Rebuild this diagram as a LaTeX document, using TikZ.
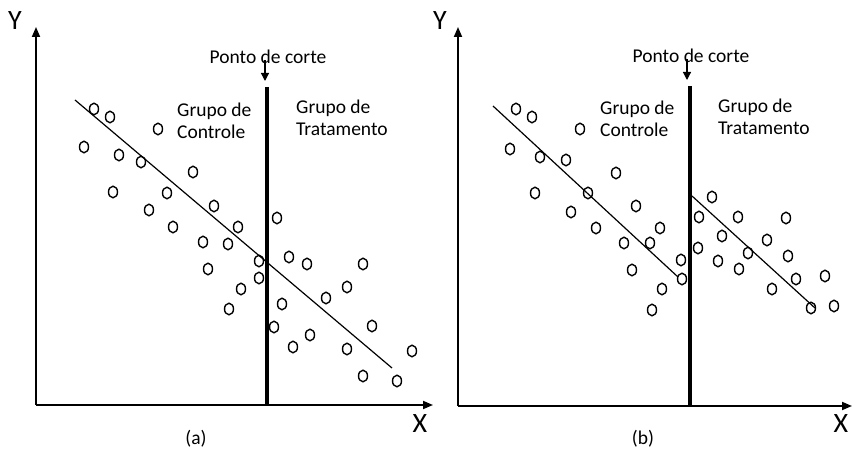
\documentclass[tikz,border=0pt]{standalone}
\usepackage{fontspec}
\setmainfont{Carlito}
\usetikzlibrary{arrows.meta}
\usetikzlibrary{shapes.geometric}

\begin{document}
\begin{tikzpicture}[x=1pt,y=-1pt]

            \tikzstyle{obsNode} = [draw, ellipse, line width=1.4pt, inner sep=0pt, minimum width=9pt, minimum height=11.5pt];
            \tikzstyle{textNode} = [font=\fontsize{19.5}{22}\selectfont, inner sep=0pt];
            \tikzstyle{groupNode} = [textNode, align=left, anchor=west];
            \tikzstyle{axisLabel} = [font=\fontsize{28}{30}\selectfont, inner sep=0pt];

            \tikzstyle{axisEdge} = [line width=1.8pt, -{Triangle[length=10pt,width=8pt]}];
            \tikzstyle{cutEdge} = [line width=4.5pt];
            \tikzstyle{fitEdge} = [line width=1.2pt];
            \tikzstyle{pointEdge} = [line width=1.2pt, -{Triangle[length=8pt,width=8pt]}];

            \useasboundingbox (0,0) rectangle (852,454);

            % panel (a)
            \coordinate (aO) at (36,405);
            \coordinate (aY) at (36,27);
            \coordinate (aX) at (433,405);
            \draw[axisEdge] (aO) -- (aY);
            \draw[axisEdge] (aO) -- (aX);
            \node[axisLabel] (aYlab) at (15,21) {Y};
            \node[axisLabel] (aXlab) at (420,424) {X};
            \node[textNode] (aCap) at (196,439) {(a)};

            \coordinate (aCutTop) at (267,87);
            \coordinate (aCutBot) at (267,406);
            \draw[cutEdge] (aCutTop) -- (aCutBot);
            \node[textNode] (aPonto) at (268,57) {Ponto de corte};
            \coordinate (aArwTop) at (265,60);
            \coordinate (aArwBot) at (265,81);
            \draw[pointEdge] (aArwTop) -- (aArwBot);

            \node[groupNode] (aCtrl) at (177,120.5) {Grupo de\\Controle};
            \node[groupNode] (aTrat) at (296,118) {Grupo de\\Tratamento};

            \coordinate (aFitA) at (75,100);
            \coordinate (aFitB) at (392,368);
            \draw[fitEdge] (aFitA) -- (aFitB);

            \foreach \px/\py [count=\i] in {94/109, 110/117, 158/129, 84/147, 119/155, 141/162,
                193/172, 113/192, 167/193, 214/206, 149/210, 277/218, 173/227, 238/227,
                203/242, 228/244, 259/261, 289/257, 307/264, 363/264, 208/269, 259/278,
                241/289, 347/287, 326/298, 282/304, 229/309, 372/326, 274/327, 310/335,
                293/347, 347/349, 412/351, 363/376, 397/381}
              \node[obsNode] (a\i) at (\px,\py) {};

            % panel (b)
            \coordinate (bO) at (458,406);
            \coordinate (bY) at (458,27);
            \coordinate (bX) at (852,406);
            \draw[axisEdge] (bO) -- (bY);
            \draw[axisEdge] (bO) -- (bX);
            \node[axisLabel] (bYlab) at (440,21) {Y};
            \node[axisLabel] (bXlab) at (841,424) {X};
            \node[textNode] (bCap) at (643,439) {(b)};

            \coordinate (bCutTop) at (690,86);
            \coordinate (bCutBot) at (690,407);
            \draw[cutEdge] (bCutTop) -- (bCutBot);
            \node[textNode] (bPonto) at (691,56) {Ponto de corte};
            \coordinate (bArwTop) at (687,59);
            \coordinate (bArwBot) at (687,80);
            \draw[pointEdge] (bArwTop) -- (bArwBot);

            \node[groupNode] (bCtrl) at (600,119) {Grupo de\\Controle};
            \node[groupNode] (bTrat) at (718,116.5) {Grupo de\\Tratamento};

            \coordinate (bFitA) at (493,106);
            \coordinate (bFitB) at (678,277);
            \draw[fitEdge] (bFitA) -- (bFitB);
            \coordinate (bFitC) at (692,196);
            \coordinate (bFitD) at (815,308);
            \draw[fitEdge] (bFitC) -- (bFitD);

            \foreach \px/\py [count=\i] in {516/109, 532/117, 580/129, 510/149, 540/157, 566/160,
                616/173, 535/193, 588/193, 636/206, 571/212, 712/197, 699/217, 738/217,
                786/218, 596/228, 660/228, 624/243, 650/243, 722/236, 767/240, 698/248,
                748/253, 788/256, 681/260, 632/270, 718/261, 739/269, 796/279, 825/276,
                682/279, 662/289, 772/289, 652/310, 811/308, 834/306}
              \node[obsNode] (b\i) at (\px,\py) {};

\end{tikzpicture}
\end{document}
